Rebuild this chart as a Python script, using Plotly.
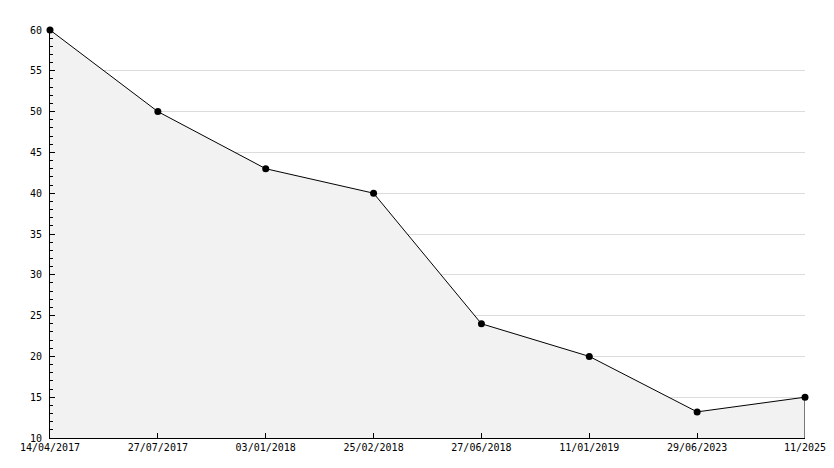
import plotly.graph_objects as go

dates = ["14/04/2017", "27/07/2017", "03/01/2018", "25/02/2018", "27/06/2018",
         "11/01/2019", "29/06/2023", "11/2025"]
values = [60, 50, 43, 40, 24, 20, 13.2, 15]
y_min, y_max = 10, 60

idx = list(range(len(dates)))

fig = go.Figure()
fig.add_trace(go.Scatter(
    x=idx, y=values, mode="lines+markers",
    fill="tozeroy", fillcolor="#f2f2f2",
    line=dict(color="black", width=1),
    marker=dict(color="black", size=7, symbol="circle"),
    hoverinfo="skip", showlegend=False, cliponaxis=False,
))
# vertical closing edge of the filled area at last point
fig.add_trace(go.Scatter(
    x=[idx[-1], idx[-1]], y=[y_min, values[-1]], mode="lines",
    line=dict(color="black", width=1), hoverinfo="skip", showlegend=False,
))

font = dict(family="DejaVu Sans Mono", size=10, color="black")
# page body has an 8px default margin; figure offset accordingly
fig.update_layout(
    width=826, height=460,
    margin=dict(l=42, r=29, t=22, b=30),
    paper_bgcolor="white", plot_bgcolor="white",
    font=font,
    xaxis=dict(
        range=[0, len(dates) - 1], tickmode="array", tickvals=idx, ticktext=dates,
        showgrid=False, zeroline=False, automargin=False,
        showline=True, linecolor="black", linewidth=1,
        ticks="inside", ticklen=5, tickcolor="black",
        tickfont=font,
    ),
    yaxis=dict(
        range=[y_min, y_max], dtick=5, tick0=0, automargin=False,
        showgrid=True, gridcolor="#dcdcdc", gridwidth=1, zeroline=False,
        showline=True, linecolor="black", linewidth=1,
        ticks="inside", ticklen=5, tickcolor="black", ticklabelstandoff=5,
        minor=dict(dtick=1, ticks="inside", ticklen=3, tickcolor="black", showgrid=False),
        tickfont=font,
    ),
)
fig.write_html("out.html")
